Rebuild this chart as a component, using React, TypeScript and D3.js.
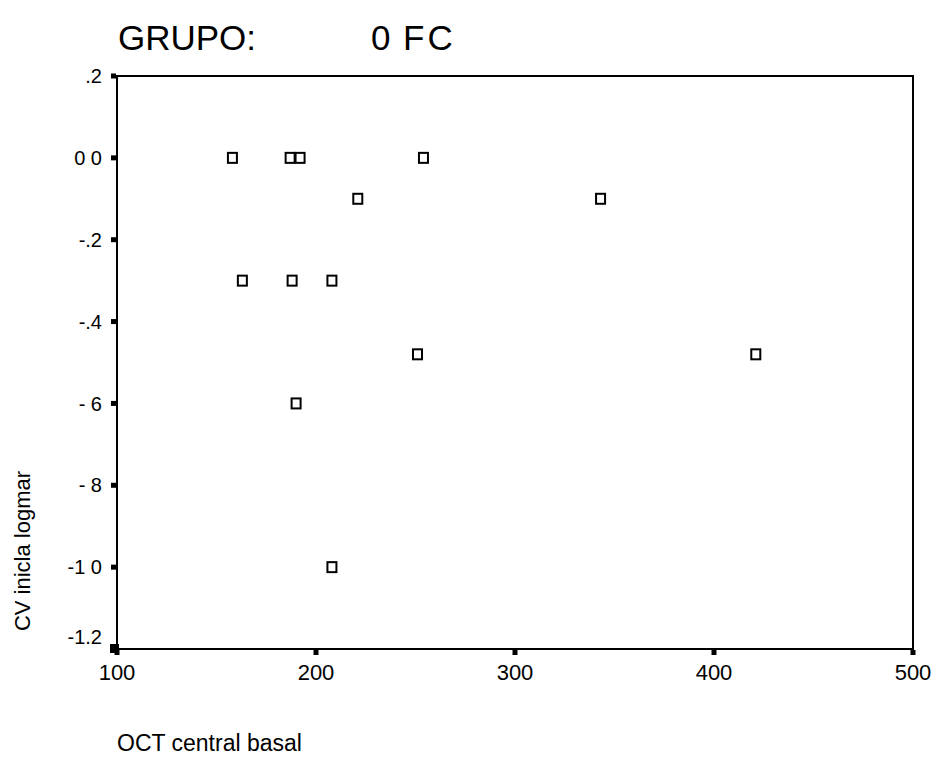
import React, { useEffect, useRef } from 'react';
import * as d3 from 'd3';

// OCT central basal vs CV inicial logmar, grupo 0 FC
const octValues = [158, 187, 192, 254, 221, 343, 163, 188, 208, 251, 421, 190, 208];
const cvValues = [0, 0, 0, 0, -0.1, -0.1, -0.3, -0.3, -0.3, -0.48, -0.48, -0.6, -1.0];

const xTicks = [100, 200, 300, 400, 500];
const yTicks = [0.2, 0, -0.2, -0.4, -0.6, -0.8, -1.0, -1.2];
const yTickLabels = ['.2', '0 0', '-.2', '-.4', '- 6', '- 8', '-1 0', '-1.2'];

const App = () => {
  const ref = useRef<SVGSVGElement>(null);

  useEffect(() => {
    const svg = d3.select(ref.current);
    svg.selectAll('*').remove();

    const margin = { top: 76, right: 24, bottom: 109, left: 117 };
    const width = 937 - margin.left - margin.right;
    const height = 758 - margin.top - margin.bottom;
    const font = 'Arial, "Liberation Sans", sans-serif';

    const x = d3.scaleLinear().domain([100, 500]).range([0, width]);
    const y = d3.scaleLinear().domain([-1.2, 0.2]).range([height, 0]);

    svg.append('rect').attr('width', 937).attr('height', 758).attr('fill', '#fff');

    // title
    svg.append('text')
      .attr('x', 118).attr('y', 50)
      .style('font', '35px ' + font)
      .text('GRUPO:');
    svg.append('text')
      .attr('x', 371).attr('y', 50)
      .style('font', '35px ' + font)
      .text('0');
    svg.append('text')
      .attr('x', 403).attr('y', 50)
      .style('font', '35px ' + font)
      .style('letter-spacing', '3px')
      .text('FC');

    const g = svg.append('g')
      .attr('transform', 'translate(' + margin.left + ',' + margin.top + ')');

    g.append('rect')
      .attr('width', width).attr('height', height)
      .attr('fill', 'none').attr('stroke', '#000').attr('stroke-width', 2);

    // y ticks (the bottom label sits a little higher, as in SPSS)
    yTicks.forEach((t, i) => {
      g.append('rect')
        .attr('x', -6).attr('y', y(t) - 2.5)
        .attr('width', 5).attr('height', 5)
        .attr('fill', '#000');
      g.append('text')
        .attr('x', -15).attr('y', y(t) - (i === yTicks.length - 1 ? 12 : 0))
        .attr('dy', '0.36em')
        .attr('text-anchor', 'end')
        .style('font', '20px ' + font)
        .style('white-space', 'pre')
        .text(yTickLabels[i]);
    });
    g.append('rect')
      .attr('x', -7).attr('y', height - 5)
      .attr('width', 9).attr('height', 9)
      .attr('fill', '#000');

    // x ticks
    xTicks.forEach(t => {
      g.append('rect')
        .attr('x', x(t) - 2.5).attr('y', height + 1)
        .attr('width', 5).attr('height', 5)
        .attr('fill', '#000');
      g.append('text')
        .attr('x', x(t)).attr('y', height + 31)
        .attr('text-anchor', 'middle')
        .style('font', '22px ' + font)
        .text(d3.format('d')(t));
    });

    // points
    g.selectAll('.pt')
      .data(octValues.map((v, i) => [v, cvValues[i]]))
      .enter().append('rect')
        .attr('class', 'pt')
        .attr('x', d => x(d[0]) - 4.5)
        .attr('y', d => y(d[1]) - 5)
        .attr('width', 9).attr('height', 10)
        .attr('fill', '#fff')
        .attr('stroke', '#000')
        .attr('stroke-width', 2);

    // axis titles
    svg.append('text')
      .attr('x', 117).attr('y', 751)
      .style('font', '23px ' + font)
      .text('OCT central basal');
    svg.append('text')
      .attr('transform', 'translate(30,551) rotate(-90)')
      .attr('text-anchor', 'middle')
      .style('font', '22px ' + font)
      .text('CV inicla logmar');
  }, []);

  return (
    <svg ref={ref} width={937} height={758}
      style={{ display: 'block', position: 'absolute', left: 0, top: 0 }}></svg>
  );
};

export default App;
